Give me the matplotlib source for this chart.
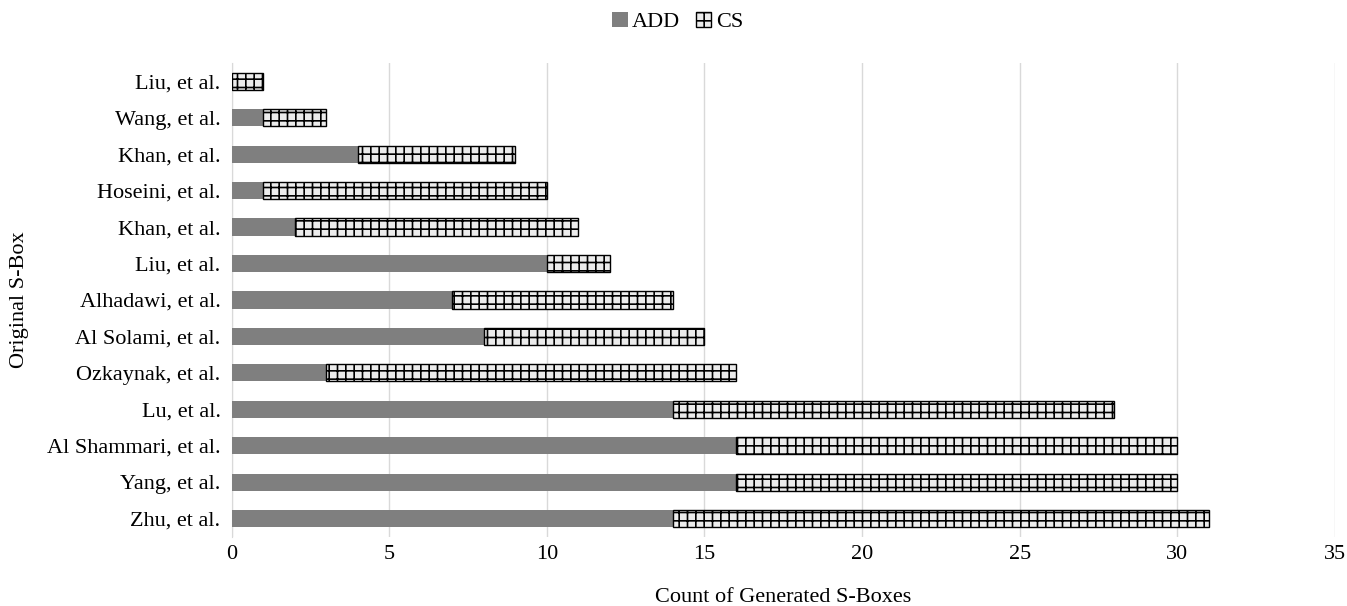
import numpy as np
import matplotlib.pyplot as plt

plt.rcParams['font.family'] = ['Liberation Serif', 'DejaVu Serif']
plt.rcParams['hatch.linewidth'] = 1.2

# bottom to top
authors = ["Zhu, et al.", "Yang, et al.", "Al Shammari, et al.", "Lu, et al.",
           "Ozkaynak, et al.", "Al Solami, et al.", "Alhadawi, et al.", "Liu, et al.",
           "Khan, et al.", "Hoseini, et al.", "Khan, et al.", "Wang, et al.", "Liu, et al."]
add = [14, 16, 16, 14, 3, 8, 7, 10, 2, 1, 4, 1, 0]
cs = [17, 14, 14, 14, 13, 7, 7, 2, 9, 9, 5, 2, 1]

fig = plt.figure(figsize=(13.47, 6.06), dpi=100)
ax = fig.add_axes([0.172, 0.114, 0.819, 0.782])

y = np.arange(len(authors))
ax.barh(y, add, height=0.47, color="#7f7f7f", label="ADD", zorder=3)
ax.barh(y, cs, left=add, height=0.47, color="#ececec", edgecolor="black",
        linewidth=1.0, hatch="++", label="CS", zorder=3)

ax.set_xlim(0, 35)
ax.set_ylim(-0.5, len(authors) - 0.5)
ax.set_xticks(range(0, 36, 5))
ax.set_yticks(y)
ax.set_yticklabels(authors)
ax.tick_params(axis="both", length=0, labelsize=16, colors="black")
ax.tick_params(axis="x", pad=6)
ax.tick_params(axis="y", pad=8)
ax.grid(axis="x", color="#d9d9d9", linewidth=1.0, zorder=0)
for s in ["top", "right", "bottom"]:
    ax.spines[s].set_visible(False)
ax.spines["left"].set_color("#d9d9d9")

ax.set_xlabel("Count of Generated S-Boxes", fontsize=16)
ax.set_ylabel("Original S-Box", fontsize=16)
ax.xaxis.set_label_coords(0.5, -0.107)
ax.yaxis.set_label_coords(-0.184, 0.5)

fig.legend(loc="upper center", bbox_to_anchor=(0.503, 1.014), ncol=2, frameon=False,
           fontsize=16, handlelength=0.7, handleheight=0.7, handletextpad=0.2,
           columnspacing=0.7)

fig.savefig("out.png", dpi=100)
